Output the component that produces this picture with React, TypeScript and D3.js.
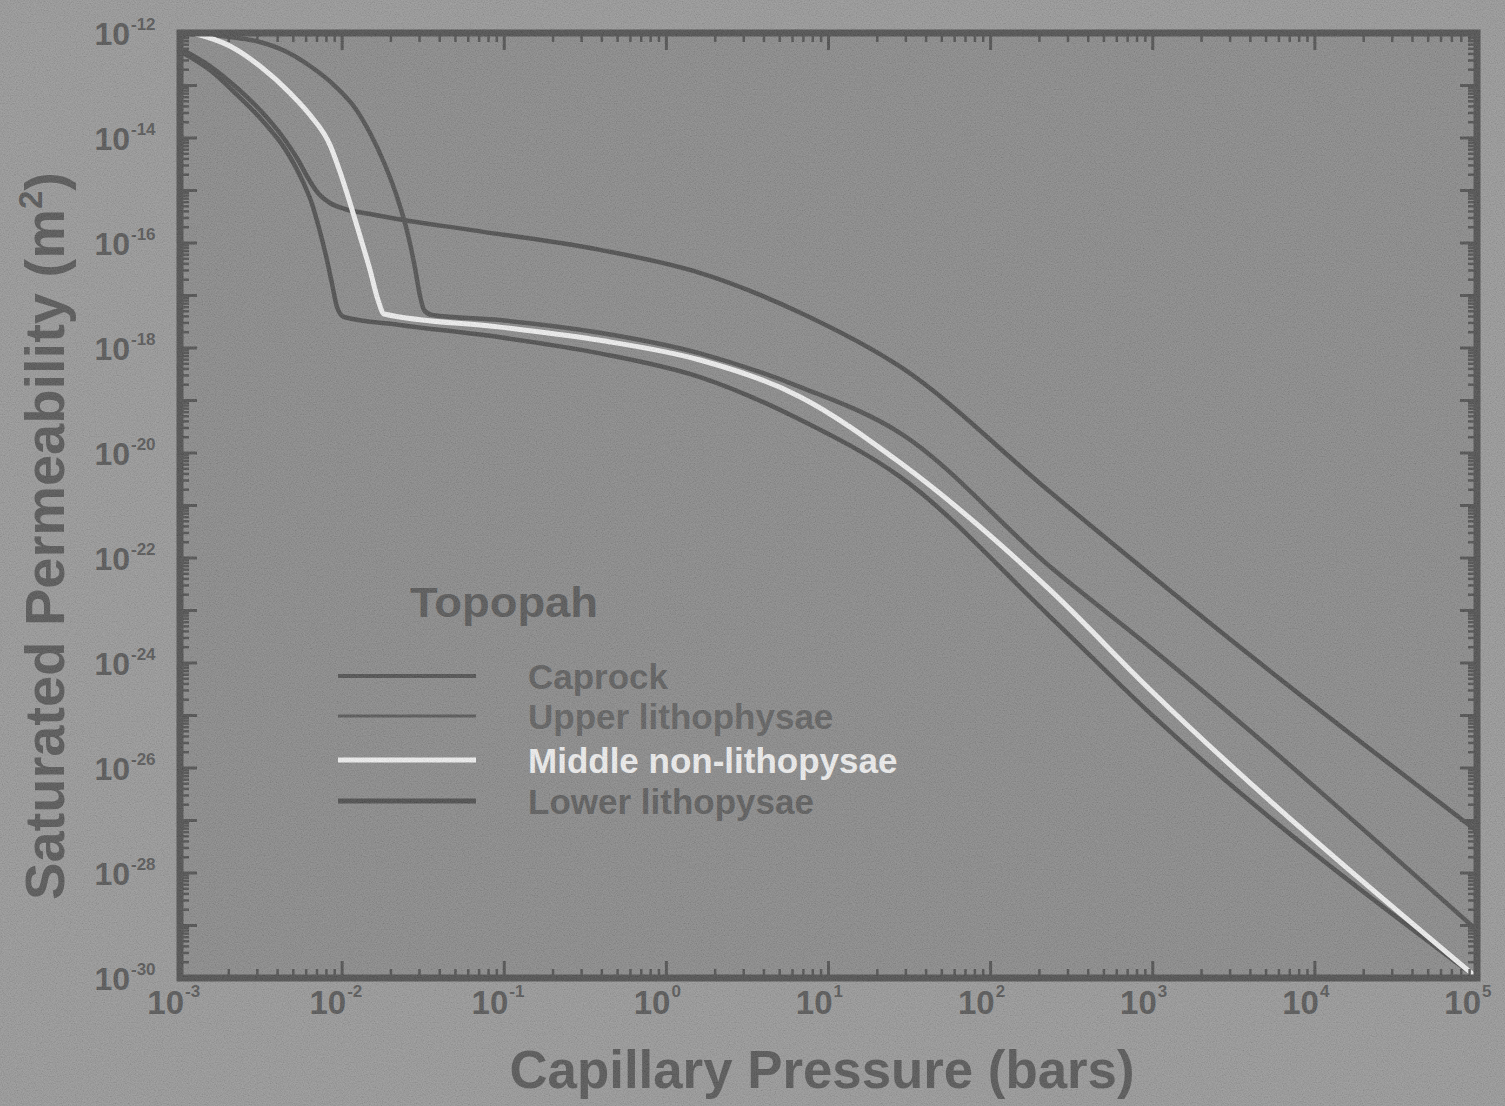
import React from "react";
import * as d3 from "d3";

// capillary pressure (bars) vs saturated permeability (m^2)
const caprockP = [1.043e-3, 1.53e-3, 2.25e-3, 3.2e-3, 4.26e-3, 5.35e-3, 6.16e-3, 7.1e-3, 8.42e-3, 1.042e-2, 1.486e-2, 2.38e-2, 6.15e-2, 0.39, 1.61, 6.7, 27.7, 233, 3990, 1e5];
const caprockK = [4.75e-13, 2.35e-13, 8.95e-14, 3.13e-14, 1.09e-14, 3.81e-15, 1.73e-15, 8.95e-16, 5.78e-16, 4.44e-16, 3.57e-16, 2.75e-16, 1.78e-16, 7.4e-17, 2.7e-17, 4.7e-18, 4.4e-19, 1.8e-21, 1.4e-24, 6.3e-28];

const upperP = [1.074e-3, 2.03e-3, 3.11e-3, 4.44e-3, 6.34e-3, 9.04e-3, 1.201e-2, 1.486e-2, 1.84e-2, 2.213e-2, 2.55e-2, 2.816e-2, 3.024e-2, 3.2e-2, 3.59e-2, 9.4e-2, 0.39, 1.61, 6.7, 27.7, 233, 964, 1e5];
const upperK = [9.57e-13, 8.39e-13, 6.74e-13, 4.54e-13, 2.35e-13, 9.77e-14, 3.73e-14, 1.245e-14, 3.06e-15, 6.59e-16, 1.42e-16, 3.34e-17, 9.77e-18, 5.3e-18, 4.25e-18, 3.4e-18, 1.95e-18, 7.9e-19, 1.8e-19, 2.4e-20, 6.8e-23, 2.0e-24, 8.1e-30];

const middleP = [1.2e-3, 2.03e-3, 3.11e-3, 4.77e-3, 6.34e-3, 8.42e-3, 9.71e-3, 1.119e-2, 1.289e-2, 1.486e-2, 1.665e-2, 1.814e-2, 9.4e-2, 0.39, 1.61, 6.7, 27.7, 233, 964, 1e5];
const middleK = [1e-12, 5.65e-13, 2.35e-13, 7.2e-14, 2.74e-14, 7.36e-15, 2.25e-15, 5.78e-16, 1.36e-16, 3.06e-17, 8.2e-18, 4.45e-18, 2.5e-18, 1.4e-18, 5.9e-19, 1.17e-19, 6.5e-21, 2.45e-23, 3.1e-25, 1e-30];

const lowerP = [1.043e-3, 1.53e-3, 2.25e-3, 3.2e-3, 4.57e-3, 5.74e-3, 6.52e-3, 7.2e-3, 7.96e-3, 8.67e-3, 9.3e-3, 1.027e-2, 2.27e-2, 9.4e-2, 0.39, 1.61, 6.7, 27.7, 233, 964, 1e5];
const lowerK = [4.16e-13, 1.97e-13, 6.6e-14, 2.2e-14, 5.41e-15, 1.45e-15, 5.53e-16, 1.93e-16, 5.65e-17, 1.66e-17, 6.04e-18, 3.89e-18, 2.75e-18, 1.6e-18, 7.9e-19, 2.8e-19, 4.3e-20, 3.5e-21, 7.6e-24, 1.1e-25, 1e-30];

const seriesNames = ["Caprock", "Upper lithophysae", "Middle non-lithopysae", "Lower lithopysae"];
const xTickExps = [-3, -2, -1, 0, 1, 2, 3, 4, 5];
const yTickExps = [-12, -14, -16, -18, -20, -22, -24, -26, -28, -30];

const W = 1505;
const H = 1106;
const left = 180, right = 1477, top = 33, bottom = 978;
const axisCol = "#434343";
const textCol = "#4a4a4a";
const font = "'Liberation Sans', Arial, sans-serif";

export default function App() {
  const x = d3.scaleLog().domain([1e-3, 1e5]).range([left, right]);
  const y = d3.scaleLog().domain([1e-30, 1e-12]).range([bottom, top]);

  const line = d3
    .line<[number, number]>()
    .x((d) => x(d[0]))
    .y((d) => y(d[1]))
    .curve(d3.curveMonotoneX);

  const series = [
    { name: seriesNames[0], P: caprockP, K: caprockK, color: "#414141", width: 4.5 },
    { name: seriesNames[1], P: upperP, K: upperK, color: "#444444", width: 4.5 },
    { name: seriesNames[3], P: lowerP, K: lowerK, color: "#414141", width: 4.5 },
    { name: seriesNames[2], P: middleP, K: middleK, color: "#f3f3f3", width: 5 },
  ];

  // tick positions
  const xMajor = d3.range(-3, 6).map((e) => Math.pow(10, e));
  const xMinor: number[] = [];
  d3.range(-3, 5).forEach((e) => d3.range(2, 10).forEach((k) => xMinor.push(k * Math.pow(10, e))));
  const yMajor = d3.range(-30, -11).map((e) => Math.pow(10, e));
  const yMinor: number[] = [];
  d3.range(-30, -12).forEach((e) => d3.range(2, 10).forEach((k) => yMinor.push(k * Math.pow(10, e))));

  const legend = [
    { label: "Caprock", y: 676, color: "#434343", text: "#525252", width: 4 },
    { label: "Upper lithophysae", y: 716, color: "#4a4a4a", text: "#555555", width: 3 },
    { label: "Middle non-lithopysae", y: 760, color: "#f3f3f3", text: "#f2f2f2", width: 5 },
    { label: "Lower lithopysae", y: 801, color: "#3f3f3f", text: "#505050", width: 5 },
  ];

  return (
    <svg
      width={W}
      height={H}
      style={{ position: "absolute", left: 0, top: 0, fontFamily: font, fontWeight: "bold" }}
    >
      <defs>
        <filter id="grain" x="0" y="0" width="100%" height="100%">
          <feTurbulence type="fractalNoise" baseFrequency="0.85" numOctaves="2" seed="7" />
          <feColorMatrix type="matrix" values="1 0 0 0 0  1 0 0 0 0  1 0 0 0 0  0 0 0 0 1" />
        </filter>
      </defs>
      <rect width={W} height={H} fill="#939393" />
      <rect x={left} y={top} width={right - left} height={bottom - top} fill="#838383" />

      {/* curves */}
      {series.map((s) => (
        <path
          key={s.name}
          d={line(s.P.map((p, i) => [p, s.K[i]] as [number, number])) || ""}
          fill="none"
          stroke={s.color}
          strokeWidth={s.width}
          strokeLinejoin="round"
        />
      ))}

      {/* frame */}
      <rect x={left} y={top} width={right - left} height={bottom - top} fill="none" stroke={axisCol} strokeWidth={7} />

      {/* x ticks bottom & top */}
      {xMajor.map((v) => (
        <g key={"xM" + v}>
          <line x1={x(v)} x2={x(v)} y1={bottom} y2={bottom - 17} stroke={axisCol} strokeWidth={3} />
          <line x1={x(v)} x2={x(v)} y1={top} y2={top + 17} stroke={axisCol} strokeWidth={3} />
        </g>
      ))}
      {xMinor.map((v) => (
        <g key={"xm" + v}>
          <line x1={x(v)} x2={x(v)} y1={bottom} y2={bottom - 9} stroke={axisCol} strokeWidth={2.5} />
          <line x1={x(v)} x2={x(v)} y1={top} y2={top + 9} stroke={axisCol} strokeWidth={2.5} />
        </g>
      ))}
      {/* y ticks left & right */}
      {yMajor.map((v) => (
        <g key={"yM" + v}>
          <line x1={left} x2={left + 17} y1={y(v)} y2={y(v)} stroke={axisCol} strokeWidth={3} />
          <line x1={right} x2={right - 17} y1={y(v)} y2={y(v)} stroke={axisCol} strokeWidth={3} />
        </g>
      ))}
      {yMinor.map((v) => (
        <g key={"ym" + v}>
          <line x1={left} x2={left + 9} y1={y(v)} y2={y(v)} stroke={axisCol} strokeWidth={2.5} />
          <line x1={right} x2={right - 9} y1={y(v)} y2={y(v)} stroke={axisCol} strokeWidth={2.5} />
        </g>
      ))}

      {/* x tick labels */}
      {xTickExps.map((e) => {
        const tx = x(Math.pow(10, e));
        return (
          <g key={"xl" + e} fill={textCol}>
            <text x={tx + 4} y={1014} fontSize={33} textAnchor="end">10</text>
            <text x={tx + 5} y={997} fontSize={17}>{e}</text>
          </g>
        );
      })}

      {/* y tick labels */}
      {yTickExps.map((e) => {
        const ty = y(Math.pow(10, e));
        return (
          <g key={"yl" + e} fill={textCol}>
            <text x={130} y={ty + 12} fontSize={32} textAnchor="end">10</text>
            <text x={131} y={ty - 3} fontSize={17}>{e}</text>
          </g>
        );
      })}

      {/* axis titles */}
      <text x={822} y={1088} fontSize={53} textAnchor="middle" fill={textCol} textLength={625} lengthAdjust="spacingAndGlyphs">
        Capillary Pressure (bars)
      </text>
      <text
        transform="translate(64,536) rotate(-90)"
        fontSize={56}
        textAnchor="middle"
        fill={textCol}
      >
        Saturated Permeability (m<tspan fontSize={33} dy={-22}>2</tspan><tspan dy={22}>)</tspan>
      </text>

      {/* legend */}
      <text x={410} y={617} fontSize={43} fill="#4b4b4b" textLength={188} lengthAdjust="spacingAndGlyphs">Topopah</text>
      {legend.map((l) => (
        <g key={l.label}>
          <line x1={338} x2={476} y1={l.y} y2={l.y} stroke={l.color} strokeWidth={l.width} />
          <text x={528} y={l.y + 13} fontSize={35} fill={l.text}>{l.label}</text>
        </g>
      ))}

      {/* scan grain */}
      <rect width={W} height={H} filter="url(#grain)" opacity={0.2} />
    </svg>
  );
}
